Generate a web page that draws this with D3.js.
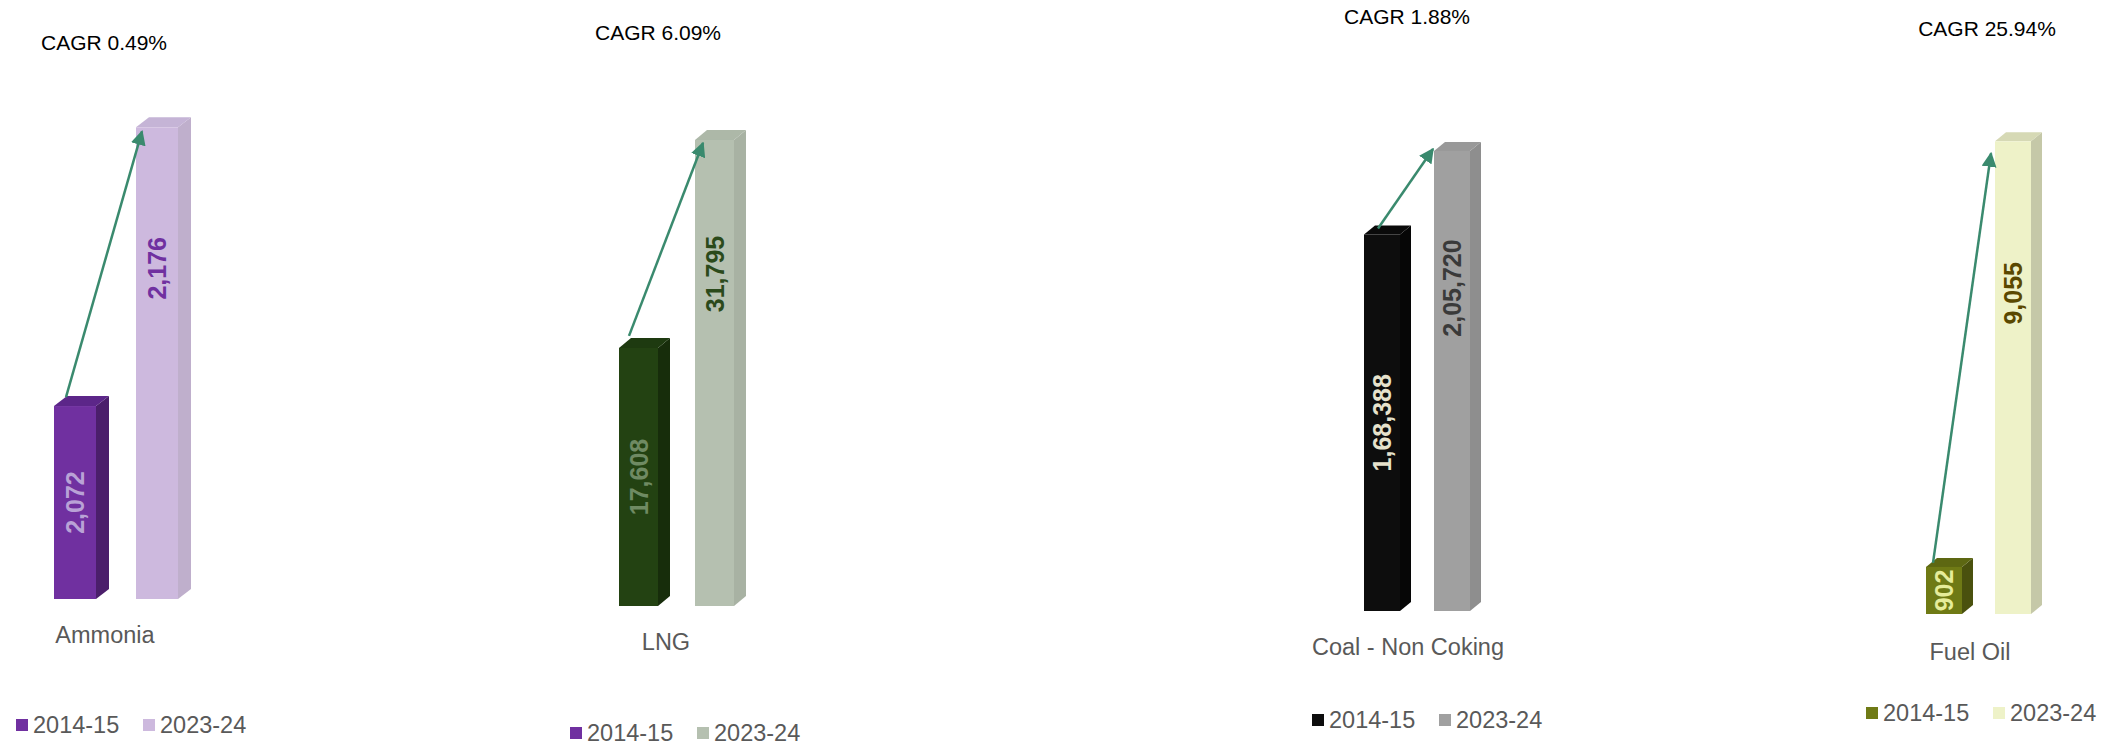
<!DOCTYPE html>
<html>
<head>
<meta charset="utf-8">
<script src="https://cdn.jsdelivr.net/npm/d3@7"></script>
<style>
  html, body { margin: 0; padding: 0; background: #ffffff; }
  svg { display: block; }
  text { font-family: "Liberation Sans", Arial, sans-serif; }
  .val { font-family: "Liberation Sans Narrow", "Arial Narrow", "Liberation Sans", sans-serif; font-weight: bold; }
</style>
</head>
<body>
<svg id="chart" width="2113" height="747"></svg>
<script>
// ---- data ----
const categories = ["Ammonia", "LNG", "Coal - Non Coking", "Fuel Oil"];
const seriesNames = ["2014-15", "2023-24"];
const values2014 = [2072, 17608, 168388, 902];
const values2023 = [2176, 31795, 205720, 9055];
const cagrPct = [0.49, 6.09, 1.88, 25.94];
const axisMin = [2000, 0, 0, 0];
const axisMax = [2200, 35000, 250000, 10000];

// ---- per-panel layout ----
const layout = [
  { x0: 54,   step: 82, bw: 42, dx: 13, dy: 10, base: 599, plotH: 536,
    cagrX: 104, cagrY: 50, catX: 105, catY: 643, legX: 16, legY: 733,
    arrow: [12, -9, 6, 4], lab2: 141 },
  { x0: 619,  step: 76, bw: 39, dx: 12, dy: 10, base: 606, plotH: 513,
    cagrX: 658, cagrY: 40, catX: 666, catY: 650, legX: 570, legY: 741,
    arrow: [10, -12, 8, 3], lab2: 134 },
  { x0: 1364, step: 70, bw: 36, dx: 11, dy: 9, base: 611, plotH: 559,
    cagrX: 1407, cagrY: 24, catX: 1408, catY: 655, legX: 1312, legY: 728,
    arrow: [14, -6, -1, -2], lab2: 137 },
  { x0: 1926, step: 69, bw: 36, dx: 11, dy: 9, base: 614, plotH: 522,
    cagrX: 1987, cagrY: 36, catX: 1970, catY: 660, legX: 1866, legY: 721,
    arrow: [7, -4, -4, 12], lab2: 152 }
];

// ---- colours: [front, top, side] for each series, per panel ----
const barColors = [
  [["#7030a0", "#5c2689", "#4b1e6b"], ["#cdb9de", "#c5b4d6", "#bfafcc"]],
  [["#234212", "#1e3a10", "#172d0b"], ["#b5c0b0", "#adb8a8", "#a8b2a3"]],
  [["#0d0d0d", "#0a0a0a", "#060606"], ["#a0a0a0", "#999999", "#8e8e8e"]],
  [["#6f7a15", "#5d6712", "#4a510e"], ["#eef2c8", "#d6d9b5", "#c5c8a8"]]
];
const legendColors = [
  ["#7030a0", "#cdb9de"],
  ["#7030a0", "#b5c0b0"],
  ["#0d0d0d", "#a0a0a0"],
  ["#6f7a15", "#eef2c8"]
];
const labelColors = [
  ["#b9a2d6", "#7030a0"],
  ["#6f8a63", "#2b4a1b"],
  ["#e6e2cc", "#3a3a3a"],
  ["#e6ec9a", "#5a4800"]
];
const arrowColor = "#3a8a6e";
const textGrey = "#595959";

// Indian digit grouping (e.g. 1,68,388)
function fmtIN(v) {
  const s = String(Math.round(v));
  if (s.length <= 3) return s;
  const last3 = s.slice(-3);
  const rest = s.slice(0, -3).replace(/\B(?=(\d{2})+(?!\d))/g, ",");
  return rest + "," + last3;
}

const svg = d3.select("#chart");
svg.append("rect").attr("width", 2113).attr("height", 747).attr("fill", "#ffffff");

const defs = svg.append("defs");
defs.append("marker")
  .attr("id", "arrowHead")
  .attr("viewBox", "0 0 10 10")
  .attr("refX", 9).attr("refY", 5)
  .attr("markerWidth", 6).attr("markerHeight", 6)
  .attr("markerUnits", "strokeWidth")
  .attr("orient", "auto")
  .append("path")
  .attr("d", "M0,0 L10,5 L0,10 Z")
  .attr("fill", arrowColor);

categories.forEach((cat, i) => {
  const L = layout[i];
  const vals = [values2014[i], values2023[i]];
  const g = svg.append("g").attr("class", "panel");

  const x = d3.scaleBand()
    .domain(seriesNames)
    .range([L.x0, L.x0 + L.step + L.bw])
    .paddingInner(1 - L.bw / L.step)
    .paddingOuter(0);

  const y = d3.scaleLinear()
    .domain([axisMin[i], axisMax[i]])
    .range([L.base, L.base - L.plotH]);

  // 3D-style bars: front face, top face, right side face
  seriesNames.forEach((s, k) => {
    const x1 = x(s), x2 = x(s) + x.bandwidth();
    const yt = y(vals[k]), yb = y(axisMin[i]);
    const [cFront, cTop, cSide] = barColors[i][k];
    g.append("path")
      .attr("d", `M${x2},${yt} L${x2 + L.dx},${yt - L.dy} L${x2 + L.dx},${yb - L.dy} L${x2},${yb} Z`)
      .attr("fill", cSide);
    g.append("path")
      .attr("d", `M${x1},${yt} L${x1 + L.dx},${yt - L.dy} L${x2 + L.dx},${yt - L.dy} L${x2},${yt} Z`)
      .attr("fill", cTop);
    g.append("rect")
      .attr("x", x1).attr("y", yt)
      .attr("width", x.bandwidth()).attr("height", yb - yt)
      .attr("fill", cFront);
  });

  // value labels, rotated to read bottom-to-top
  seriesNames.forEach((s, k) => {
    const cx = x(s) + x.bandwidth() / 2;
    const yt = y(vals[k]), yb = y(axisMin[i]);
    const cy = k === 0 ? (yt + yb) / 2 : yt + L.lab2;
    g.append("text")
      .attr("class", "val")
      .attr("transform", `translate(${cx},${cy}) rotate(-90)`)
      .attr("text-anchor", "middle")
      .attr("dominant-baseline", "central")
      .attr("font-size", 25)
      .attr("fill", labelColors[i][k])
      .text(fmtIN(vals[k]));
  });

  // growth arrow from the first bar to the second
  const a = L.arrow;
  g.append("line")
    .attr("x1", x(seriesNames[0]) + a[0]).attr("y1", y(vals[0]) + a[1])
    .attr("x2", x(seriesNames[1]) + a[2]).attr("y2", y(vals[1]) + a[3])
    .attr("stroke", arrowColor)
    .attr("stroke-width", 2.5)
    .attr("marker-end", "url(#arrowHead)");

  // CAGR caption
  g.append("text")
    .attr("x", L.cagrX).attr("y", L.cagrY)
    .attr("text-anchor", "middle")
    .attr("font-size", 21)
    .attr("fill", "#000000")
    .text(`CAGR ${cagrPct[i].toFixed(2)}%`);

  // category label
  g.append("text")
    .attr("x", L.catX).attr("y", L.catY)
    .attr("text-anchor", "middle")
    .attr("font-size", 23.5)
    .attr("fill", textGrey)
    .text(cat);

  // legend
  seriesNames.forEach((s, k) => {
    const lx = L.legX + k * 127;
    g.append("rect")
      .attr("x", lx).attr("y", L.legY - 14)
      .attr("width", 12).attr("height", 12)
      .attr("fill", legendColors[i][k]);
    g.append("text")
      .attr("x", lx + 17).attr("y", L.legY)
      .attr("font-size", 23.5)
      .attr("fill", textGrey)
      .text(s);
  });
});
</script>
</body>
</html>
